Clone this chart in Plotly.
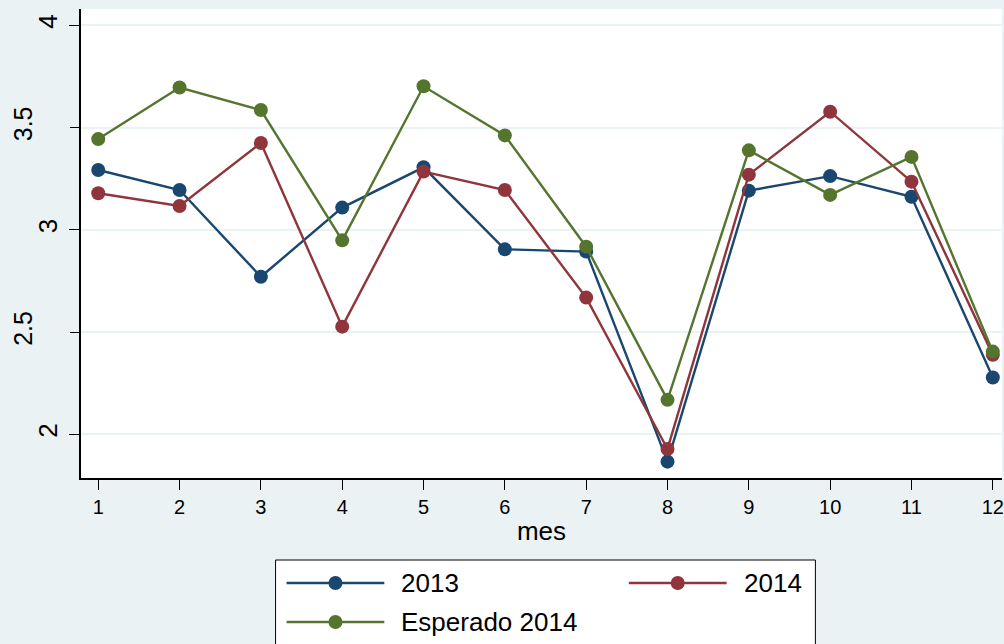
import plotly.graph_objects as go

meses = [1, 2, 3, 4, 5, 6, 7, 8, 9, 10, 11, 12]
serie_2013 = [3.293, 3.195, 2.771, 3.109, 3.306, 2.905, 2.894, 1.867, 3.192, 3.263, 3.162, 2.278]
serie_2014 = [3.179, 3.117, 3.425, 2.527, 3.285, 3.195, 2.669, 1.929, 3.270, 3.578, 3.236, 2.389]
esperado_2014 = [3.444, 3.696, 3.586, 2.949, 3.702, 3.462, 2.918, 2.169, 3.389, 3.171, 3.357, 2.405]
nombres = ["2013", "2014", "Esperado 2014"]
colores = ["#1A476F", "#90353B", "#55752F"]
ejes_y = ["y", "y", "y2"]
y_ticks_int = [2, 3, 4]
y_ticklabels_int = ["2", "3", "4"]
y_ticks_half = [2.5, 3.5]
y_ticklabels_half = ["2.5", "3.5"]

BG = "#EAF2F3"
FONT = "Liberation Sans, Arial, sans-serif"

W, H = 1004, 644
ML, MR, MT, MB = 81, 0, 9, 166
PW, PH = W - ML - MR, H - MT - MB


def px(x):
    return (x - ML) / PW


def py(y):
    return (H - MB - y) / PH


fig = go.Figure()
for nombre, serie, color, eje in zip(nombres, [serie_2013, serie_2014, esperado_2014], colores, ejes_y):
    fig.add_trace(go.Scatter(
        x=meses, y=serie, name=nombre, mode="lines+markers", yaxis=eje,
        line=dict(color=color, width=2.4),
        marker=dict(color=color, size=14, line=dict(width=0)),
        showlegend=False,
    ))

# Legend drawn as a Stata-style box (two columns)
shapes = [dict(type="rect", xref="paper", yref="paper",
               x0=px(276), x1=px(817), y0=py(560), y1=py(700),
               fillcolor="white", line=dict(color="black", width=1), layer="above")]
annotations = []
slots = [(287, 583), (630, 583), (287, 622)]
for (sx, sy), nombre, color in zip(slots, nombres, colores):
    shapes.append(dict(type="line", xref="paper", yref="paper",
                       x0=px(sx), x1=px(sx + 98), y0=py(sy), y1=py(sy),
                       line=dict(color=color, width=2.4), layer="above"))
    shapes.append(dict(type="circle", xref="paper", yref="paper",
                       xsizemode="pixel", ysizemode="pixel",
                       xanchor=px(sx + 49), yanchor=py(sy),
                       x0=-7, x1=7, y0=-7, y1=7,
                       fillcolor=color, line=dict(width=0), layer="above"))
    annotations.append(dict(xref="paper", yref="paper", x=px(sx + 113), y=py(sy),
                            xanchor="left", yanchor="middle", showarrow=False,
                            text=nombre, font=dict(size=26, color="black", family=FONT)))

yrange = [1.787, 4.080]
fig.update_layout(
    width=W, height=H,
    margin=dict(l=ML, r=MR, t=MT, b=MB),
    paper_bgcolor=BG, plot_bgcolor="white",
    font=dict(family=FONT, color="black"),
    showlegend=False,
    shapes=shapes, annotations=annotations,
    xaxis=dict(
        range=[0.788, 12.113], tickmode="array", tickvals=meses,
        ticktext=[str(m) for m in meses],
        showgrid=False, zeroline=False,
        showline=True, linecolor="black", linewidth=1.5,
        ticks="outside", ticklen=10, tickwidth=1, tickcolor="black",
        tickfont=dict(size=20, family=FONT),
        ticklabeloverflow="allow",
        title=dict(text="mes", font=dict(size=26, family=FONT), standoff=5),
    ),
    yaxis=dict(
        range=yrange, tickmode="array", tickvals=y_ticks_int, ticktext=y_ticklabels_int,
        showgrid=True, gridcolor=BG, gridwidth=2, zeroline=False,
        showline=True, linecolor="black", linewidth=1.5,
        ticks="outside", ticklen=10, tickwidth=1, tickcolor="black",
        tickangle=-90, tickfont=dict(size=26, family=FONT),
        ticklabelstandoff=2,
    ),
    yaxis2=dict(
        range=yrange, matches="y", overlaying="y", anchor="x", side="left",
        tickmode="array", tickvals=y_ticks_half, ticktext=y_ticklabels_half,
        showgrid=True, gridcolor=BG, gridwidth=2, zeroline=False, showline=False,
        ticks="outside", ticklen=10, tickwidth=1, tickcolor="black",
        tickangle=-90, tickfont=dict(size=25, family=FONT),
        ticklabelstandoff=28,
    ),
)

fig.write_html("out.html", config={"displayModeBar": False},
               post_script="document.body.style.margin='0';document.body.style.overflow='hidden';")
